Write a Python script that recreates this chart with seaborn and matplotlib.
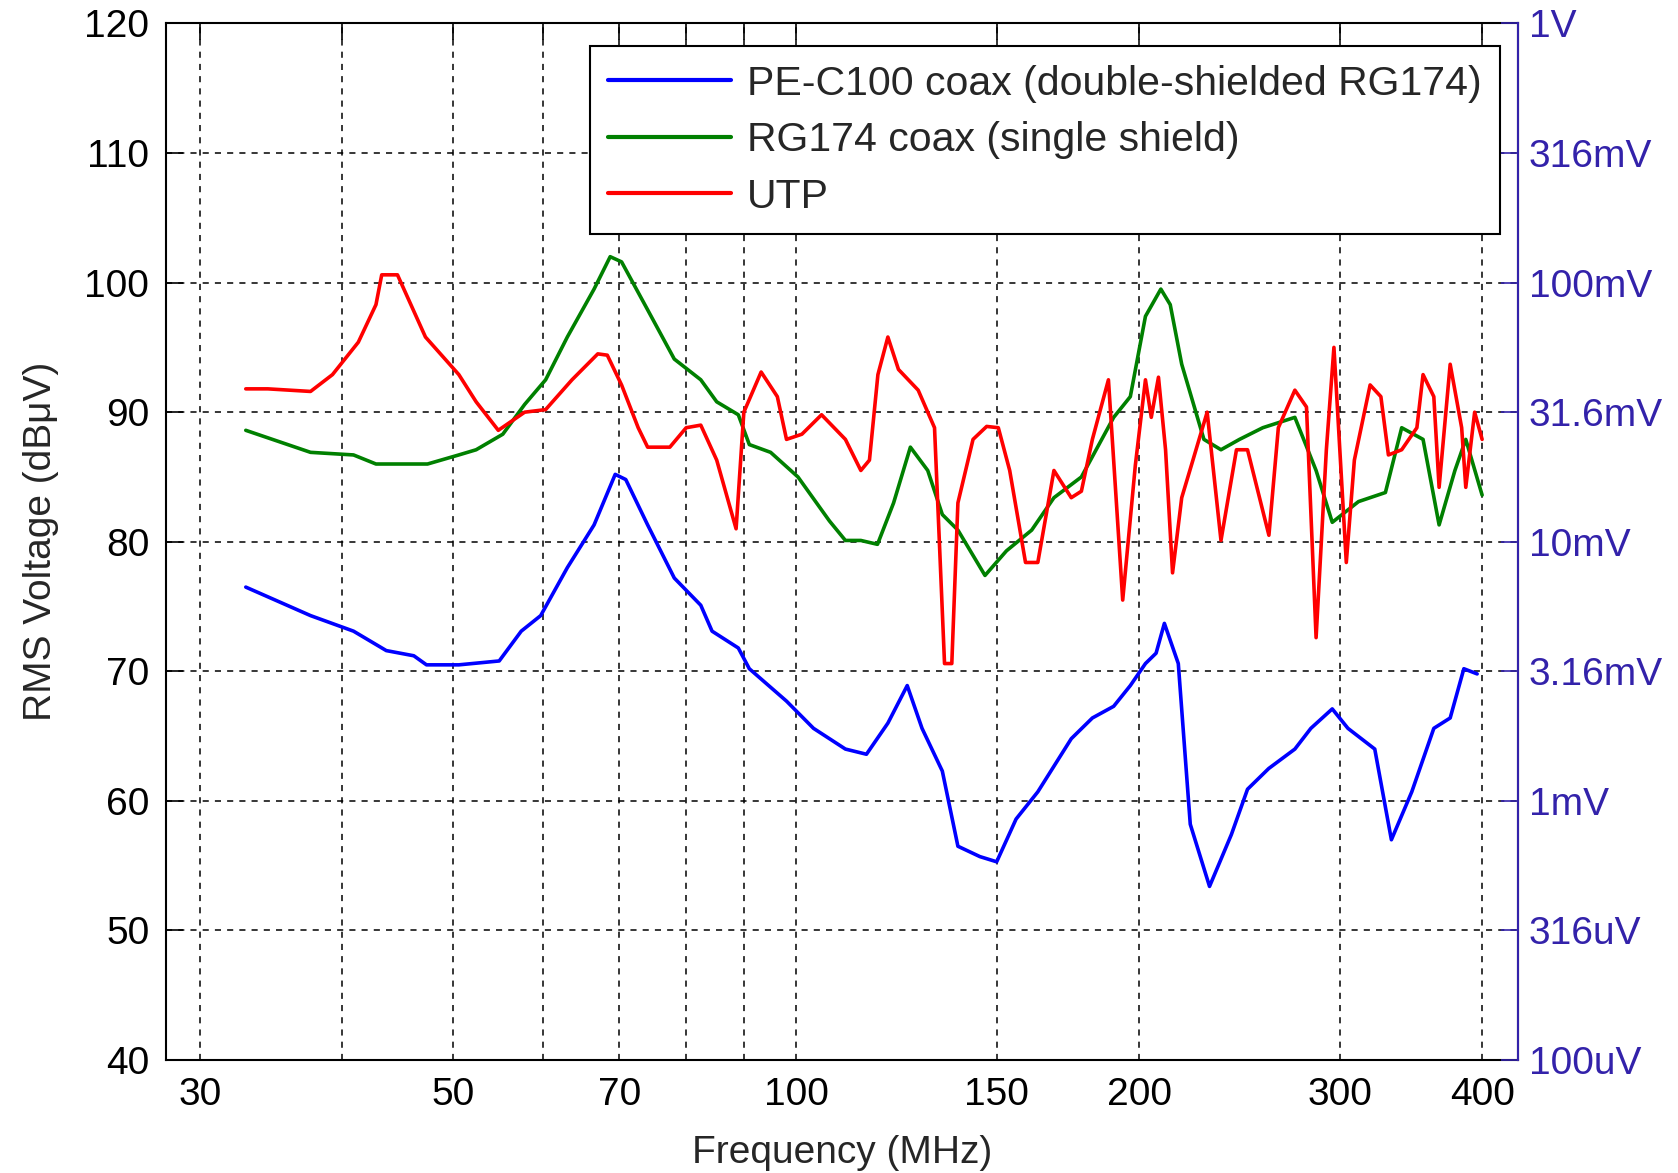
import numpy as np
import pandas as pd
import matplotlib
matplotlib.use("Agg")
import matplotlib.pyplot as plt
import seaborn as sns

# PE-C100 coax (double-shielded RG174)
pe_freq = [32.9, 37.5, 40.9, 43.7, 46.2, 47.4, 50.6, 54.9, 57.4, 59.7, 63.0, 66.5, 69.4, 70.9,
           74.1, 78.2, 82.5, 84.4, 89.0, 91.0, 98.1, 103.6, 110.5, 115.3, 120.4, 125.2, 129.0,
           134.4, 138.7, 145.0, 150.0, 156.0, 163.0, 174.4, 182.0, 190.0, 196.5, 202.6, 207.0,
           210.5, 216.5, 221.8, 230.6, 241.0, 249.0, 259.9, 274.0, 283.0, 295.5, 305.0, 322.0,
           333.0, 347.0, 362.8, 375.0, 385.5, 396.0]
pe_db = [76.5, 74.3, 73.1, 71.6, 71.2, 70.5, 70.5, 70.8, 73.1, 74.3, 78.0, 81.3, 85.2, 84.8,
         81.3, 77.2, 75.1, 73.1, 71.8, 70.2, 67.7, 65.6, 64.0, 63.6, 66.0, 68.9, 65.6,
         62.3, 56.5, 55.7, 55.3, 58.6, 60.7, 64.8, 66.4, 67.3, 68.9, 70.6, 71.4,
         73.7, 70.6, 58.2, 53.4, 57.4, 60.9, 62.5, 64.0, 65.6, 67.1, 65.6, 64.0,
         57.0, 60.7, 65.6, 66.4, 70.2, 69.8]

# RG174 coax (single shield)
rg_freq = [32.9, 37.5, 40.9, 42.8, 47.5, 50.6, 52.4, 55.3, 57.8, 60.3, 63.0, 66.5, 68.7, 70.3,
           74.1, 78.2, 82.5, 85.2, 89.0, 91.0, 95.0, 100.4, 107.0, 110.5, 114.0, 117.9, 121.8,
           126.0, 130.5, 134.4, 138.7, 146.5, 153.0, 161.0, 168.4, 178.0, 190.0, 196.5, 202.6,
           209.0, 213.0, 218.0, 228.0, 236.0, 245.0, 256.8, 274.0, 286.0, 295.5, 311.6, 329.0,
           340.0, 355.0, 366.7, 378.6, 387.0, 400.0]
rg_db = [88.6, 86.9, 86.7, 86.0, 86.0, 86.7, 87.1, 88.3, 90.6, 92.5, 95.8, 99.5, 102.0, 101.6,
         97.9, 94.1, 92.5, 90.8, 89.8, 87.5, 86.9, 85.0, 81.6, 80.1, 80.1, 79.8, 83.0,
         87.3, 85.5, 82.1, 80.9, 77.4, 79.3, 80.9, 83.4, 85.0, 89.6, 91.2, 97.4,
         99.5, 98.3, 93.7, 87.9, 87.1, 87.9, 88.8, 89.6, 85.5, 81.5, 83.1, 83.8,
         88.8, 87.9, 81.3, 85.5, 87.9, 83.6]

# UTP
utp_freq = [32.9, 34.4, 37.5, 39.2, 41.3, 42.8, 43.3, 44.7, 47.3, 50.6, 52.4, 54.8, 57.8, 60.3,
            63.6, 67.0, 68.3, 70.3, 72.7, 74.1, 77.5, 80.1, 82.5, 85.2, 88.6, 90.0, 93.2,
            96.3, 98.1, 101.2, 105.3, 110.5, 114.0, 116.0, 118.0, 120.4, 123.0, 128.0, 132.3,
            135.0, 137.0, 138.7, 143.0, 147.0, 150.5, 154.0, 159.0, 163.0, 168.4, 174.4, 178.0,
            182.0, 188.0, 193.5, 198.5, 202.6, 205.0, 208.0, 211.0, 214.0, 218.0, 223.0, 229.5,
            236.0, 243.5, 249.0, 260.0, 265.0, 274.0, 280.5, 286.0, 292.0, 296.5, 304.0, 309.0,
            319.0, 326.0, 331.0, 340.0, 350.6, 355.0, 362.8, 366.7, 375.0, 383.8, 387.0, 394.0,
            400.0]
utp_db = [91.8, 91.8, 91.6, 92.9, 95.4, 98.3, 100.6, 100.6, 95.8, 92.9, 90.8, 88.6, 90.0, 90.2,
          92.5, 94.5, 94.4, 92.1, 88.8, 87.3, 87.3, 88.8, 89.0, 86.3, 81.0, 90.0, 93.1,
          91.2, 87.9, 88.3, 89.8, 87.9, 85.5, 86.3, 92.9, 95.8, 93.3, 91.7, 88.8,
          70.6, 70.6, 83.0, 87.9, 88.9, 88.8, 85.5, 78.4, 78.4, 85.5, 83.4, 83.9,
          87.9, 92.5, 75.5, 85.9, 92.5, 89.6, 92.7, 87.1, 77.6, 83.4, 86.3, 90.0,
          80.1, 87.1, 87.1, 80.5, 88.8, 91.7, 90.4, 72.6, 87.1, 95.0, 78.4, 86.3,
          92.1, 91.2, 86.7, 87.1, 88.8, 92.9, 91.2, 84.2, 93.7, 88.8, 84.2, 90.0,
          87.9]

labels = ["PE-C100 coax (double-shielded RG174)", "RG174 coax (single shield)", "UTP"]
colors = ["#0000ff", "#008000", "#ff0000"]

xtick_vals = [30, 40, 50, 60, 70, 80, 90, 100, 150, 200, 300, 400]
xtick_labels = ["30", "", "50", "", "70", "", "", "100", "150", "200", "300", "400"]
ytick_vals = [40, 50, 60, 70, 80, 90, 100, 110, 120]
right_labels = ["100uV", "316uV", "1mV", "3.16mV", "10mV", "31.6mV", "100mV", "316mV", "1V"]

df = pd.concat([
    pd.DataFrame({"freq": pe_freq, "db": pe_db, "cable": labels[0]}),
    pd.DataFrame({"freq": rg_freq, "db": rg_db, "cable": labels[1]}),
    pd.DataFrame({"freq": utp_freq, "db": utp_db, "cable": labels[2]}),
], ignore_index=True)

sns.set_style("white")
plt.rcParams["font.family"] = ["Liberation Sans", "DejaVu Sans"]

fig = plt.figure(figsize=(16.78, 11.73), dpi=100)
ax = fig.add_axes([0.0989, 0.0963, 0.8057, 0.8837])

sns.lineplot(data=df, x="freq", y="db", hue="cable", palette=dict(zip(labels, colors)),
             estimator=None, sort=False, linewidth=2.6, ax=ax)

ax.set_xscale("log")
ax.set_xlim(28, 430)
ax.set_ylim(40, 120)
ax.set_xticks(xtick_vals)
ax.set_xticklabels(xtick_labels)
ax.xaxis.set_minor_locator(matplotlib.ticker.NullLocator())
ax.set_yticks(ytick_vals)
ax.grid(True, color="black", linestyle=(0, (4, 4)), linewidth=1.1)
ax.tick_params(axis="both", direction="in", length=12, width=1.2, labelsize=28, pad=12,
               colors="black", top=True)
ax.set_xlabel("Frequency (MHz)", fontsize=28, labelpad=16)
ax.set_ylabel("RMS Voltage (dBμV)", fontsize=28, labelpad=18)
for s in ax.spines.values():
    s.set_color("black")
    s.set_linewidth(1.5)

ax2 = ax.twinx()
ax2.set_ylim(40, 120)
ax2.set_yticks(ytick_vals)
ax2.set_yticklabels(right_labels)
ax2.tick_params(axis="y", direction="in", length=12, width=1.2, labelsize=28, pad=8,
                colors="#3322aa")
ax2.spines["right"].set_color("#3322aa")
ax2.spines["right"].set_linewidth(1.5)
for k in ["left", "top", "bottom"]:
    ax2.spines[k].set_visible(False)

leg = ax.legend(loc="upper right", bbox_to_anchor=(0.987, 0.978), fontsize=29.5,
                frameon=True, fancybox=False, edgecolor="black", framealpha=1,
                handlelength=3.0, borderpad=0.45, labelspacing=0.45, handletextpad=0.4,
                borderaxespad=0)
leg.get_frame().set_linewidth(1.5)
for line in leg.get_lines():
    line.set_linewidth(3)

fig.savefig("out.png", dpi=100)
